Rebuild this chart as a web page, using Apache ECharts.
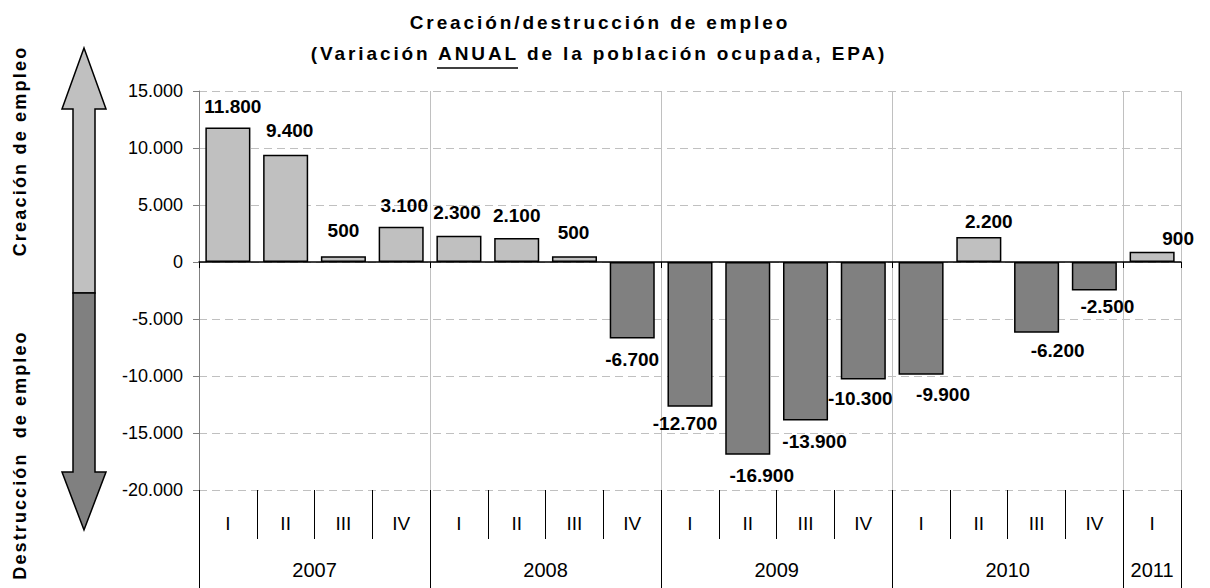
<!DOCTYPE html>
<html>
<head>
<meta charset="utf-8">
<title>Creación/destrucción de empleo</title>
<script src="https://cdn.jsdelivr.net/npm/echarts@6/dist/echarts.min.js"></script>
<style>
  html, body { margin: 0; padding: 0; background: #fff; }
  #main { width: 1210px; height: 588px; }
</style>
</head>
<body>
<div id="main"></div>
<script>
// trimestres del eje inferior y años
var quarters = ["I", "II", "III", "IV", "I", "II", "III", "IV", "I", "II", "III", "IV", "I", "II", "III", "IV", "I"];
var years = ["2007", "2008", "2009", "2010", "2011"];
// límites y centros de cada año, contados en trimestres
var yearBounds = [0, 4, 8, 12, 16, 17];
var yearCenters = [2, 6, 10, 14, 16.5];
// variación anual de la población ocupada (EPA)
var variation = [11800, 9400, 500, 3100, 2300, 2100, 500, -6700, -12700, -16900, -13900, -10300, -9900, 2200, -6200, -2500, 900];
// marcas del eje vertical
var yTicks = [-20000, -15000, -10000, -5000, 0, 5000, 10000, 15000];

var LIGHT = "#c0c0c0";
var DARK = "#808080";
var FONT = "'Liberation Sans', Arial, sans-serif";

// pequeños desplazamientos de las etiquetas, como en el gráfico original
var labelNudge = [[5, 1], [4, -3], [0, -4], [3, 0], [-2, -2], [0, -1], [-1, -2], [0, 0], [-5, -5],
  [14, -1], [9, 0], [-3, -2], [22, -2], [10, 6], [21, -4], [13, -6], [26, 8]];

function fmt(v) {
  var s = String(Math.abs(v)).replace(/\B(?=(\d{3})+(?!\d))/g, ".");
  return (v < 0 ? "-" : "") + s;
}

var myChart = echarts.init(document.getElementById("main"), null, { renderer: "svg" });

myChart.setOption({
  animation: false,
  grid: { left: 199, right: 29, top: 91, bottom: 98, containLabel: false },
  xAxis: [{
    type: "category",
    data: quarters,
    axisLine: { onZero: true, lineStyle: { color: "#000", width: 1.5 } },
    axisTick: { show: true, length: 6, interval: function (i) { return i % 4 === 0; }, lineStyle: { color: "#000" } },
    axisLabel: { show: false },
    splitLine: { show: true, interval: function (i) { return i % 4 === 0; }, lineStyle: { color: LIGHT, width: 1 } }
  }, {
    type: "category",
    data: quarters,
    position: "bottom",
    axisLine: { show: false, onZero: false },
    axisTick: { show: true, length: 49, lineStyle: { color: "#000" } },
    axisLabel: { margin: 24, fontSize: 19, color: "#000", fontFamily: FONT },
    splitLine: { show: false }
  }, {
    type: "value",
    min: 0,
    max: 17,
    position: "bottom",
    axisLine: { show: false, onZero: false },
    axisTick: { show: true, length: 98, customValues: yearBounds, lineStyle: { color: "#000" } },
    axisLabel: {
      margin: 70, fontSize: 20, color: "#000", fontFamily: FONT,
      customValues: yearCenters,
      formatter: function (v) { return years[yearCenters.indexOf(v)]; }
    },
    splitLine: { show: false }
  }],
  yAxis: {
    type: "value",
    min: yTicks[0],
    max: yTicks[yTicks.length - 1],
    interval: yTicks[1] - yTicks[0],
    axisLine: { show: true, lineStyle: { color: DARK, width: 1 } },
    axisTick: { show: true, length: 6, lineStyle: { color: DARK } },
    axisLabel: { margin: 16, fontSize: 18, color: "#000", fontFamily: FONT, formatter: fmt },
    splitLine: { lineStyle: { color: LIGHT, type: [8, 5] } }
  },
  series: [{
    type: "bar",
    barCategoryGap: "22%",
    itemStyle: { borderColor: "#000", borderWidth: 1.5 },
    label: {
      show: true,
      distance: 12,
      fontSize: 19,
      fontWeight: "bold",
      color: "#000",
      fontFamily: FONT,
      formatter: function (p) { return fmt(p.value); }
    },
    data: variation.map(function (v, i) {
      return {
        value: v,
        itemStyle: { color: v >= 0 ? LIGHT : DARK },
        label: { position: v >= 0 ? "top" : "bottom", offset: labelNudge[i] }
      };
    })
  }],
  graphic: [
    // flecha de creación / destrucción
    {
      type: "polygon",
      shape: { points: [[84, 48], [106, 109], [95, 109], [95, 293], [73, 293], [73, 109], [62, 109]] },
      style: { fill: LIGHT, stroke: "#000", lineWidth: 1.5 }
    }, {
      type: "polygon",
      shape: { points: [[73, 293], [95, 293], [95, 472], [106, 472], [84, 530], [62, 472], [73, 472]] },
      style: { fill: DARK, stroke: "#000", lineWidth: 1.5 }
    }, {
      type: "text", x: 20, y: 151, rotation: Math.PI / 2,
      style: { text: "Creación de empleo", font: "bold 18px " + FONT, fill: "#000", textAlign: "center", textVerticalAlign: "middle" }
    }, {
      type: "text", x: 20, y: 455, rotation: Math.PI / 2,
      style: { text: "Destrucción  de empleo", font: "bold 18px " + FONT, fill: "#000", textAlign: "center", textVerticalAlign: "middle" }
    },
    // título
    {
      type: "text", x: 600, y: 22,
      style: { text: "Creación/destrucción de empleo", font: "bold 19px " + FONT, fill: "#000", textAlign: "center", textVerticalAlign: "middle" }
    }, {
      type: "text", x: 599, y: 53,
      style: { text: "(Variación ANUAL de la población ocupada, EPA)", font: "bold 19px " + FONT, fill: "#000", textAlign: "center", textVerticalAlign: "middle" }
    }, {
      type: "line",
      shape: { x1: 437, y1: 68, x2: 518, y2: 68 },
      style: { stroke: "#000", lineWidth: 1.5 }
    }
  ]
});

// el original usa un espaciado entre letras más ancho en los títulos
var spacing = {
  "Creación/destrucción de empleo": 2.9,
  "(Variación ANUAL de la población ocupada, EPA)": 2.9,
  "Creación de empleo": 2.2,
  "Destrucción  de empleo": 2.1
};
function spreadTitles() {
  document.querySelectorAll("#main text").forEach(function (t) {
    var k = t.textContent;
    if (spacing[k]) {
      t.style.letterSpacing = spacing[k] + "px";
      t.style.whiteSpace = "pre";
    }
  });
}
spreadTitles();
myChart.on("finished", spreadTitles);
setTimeout(spreadTitles, 50);
</script>
</body>
</html>
